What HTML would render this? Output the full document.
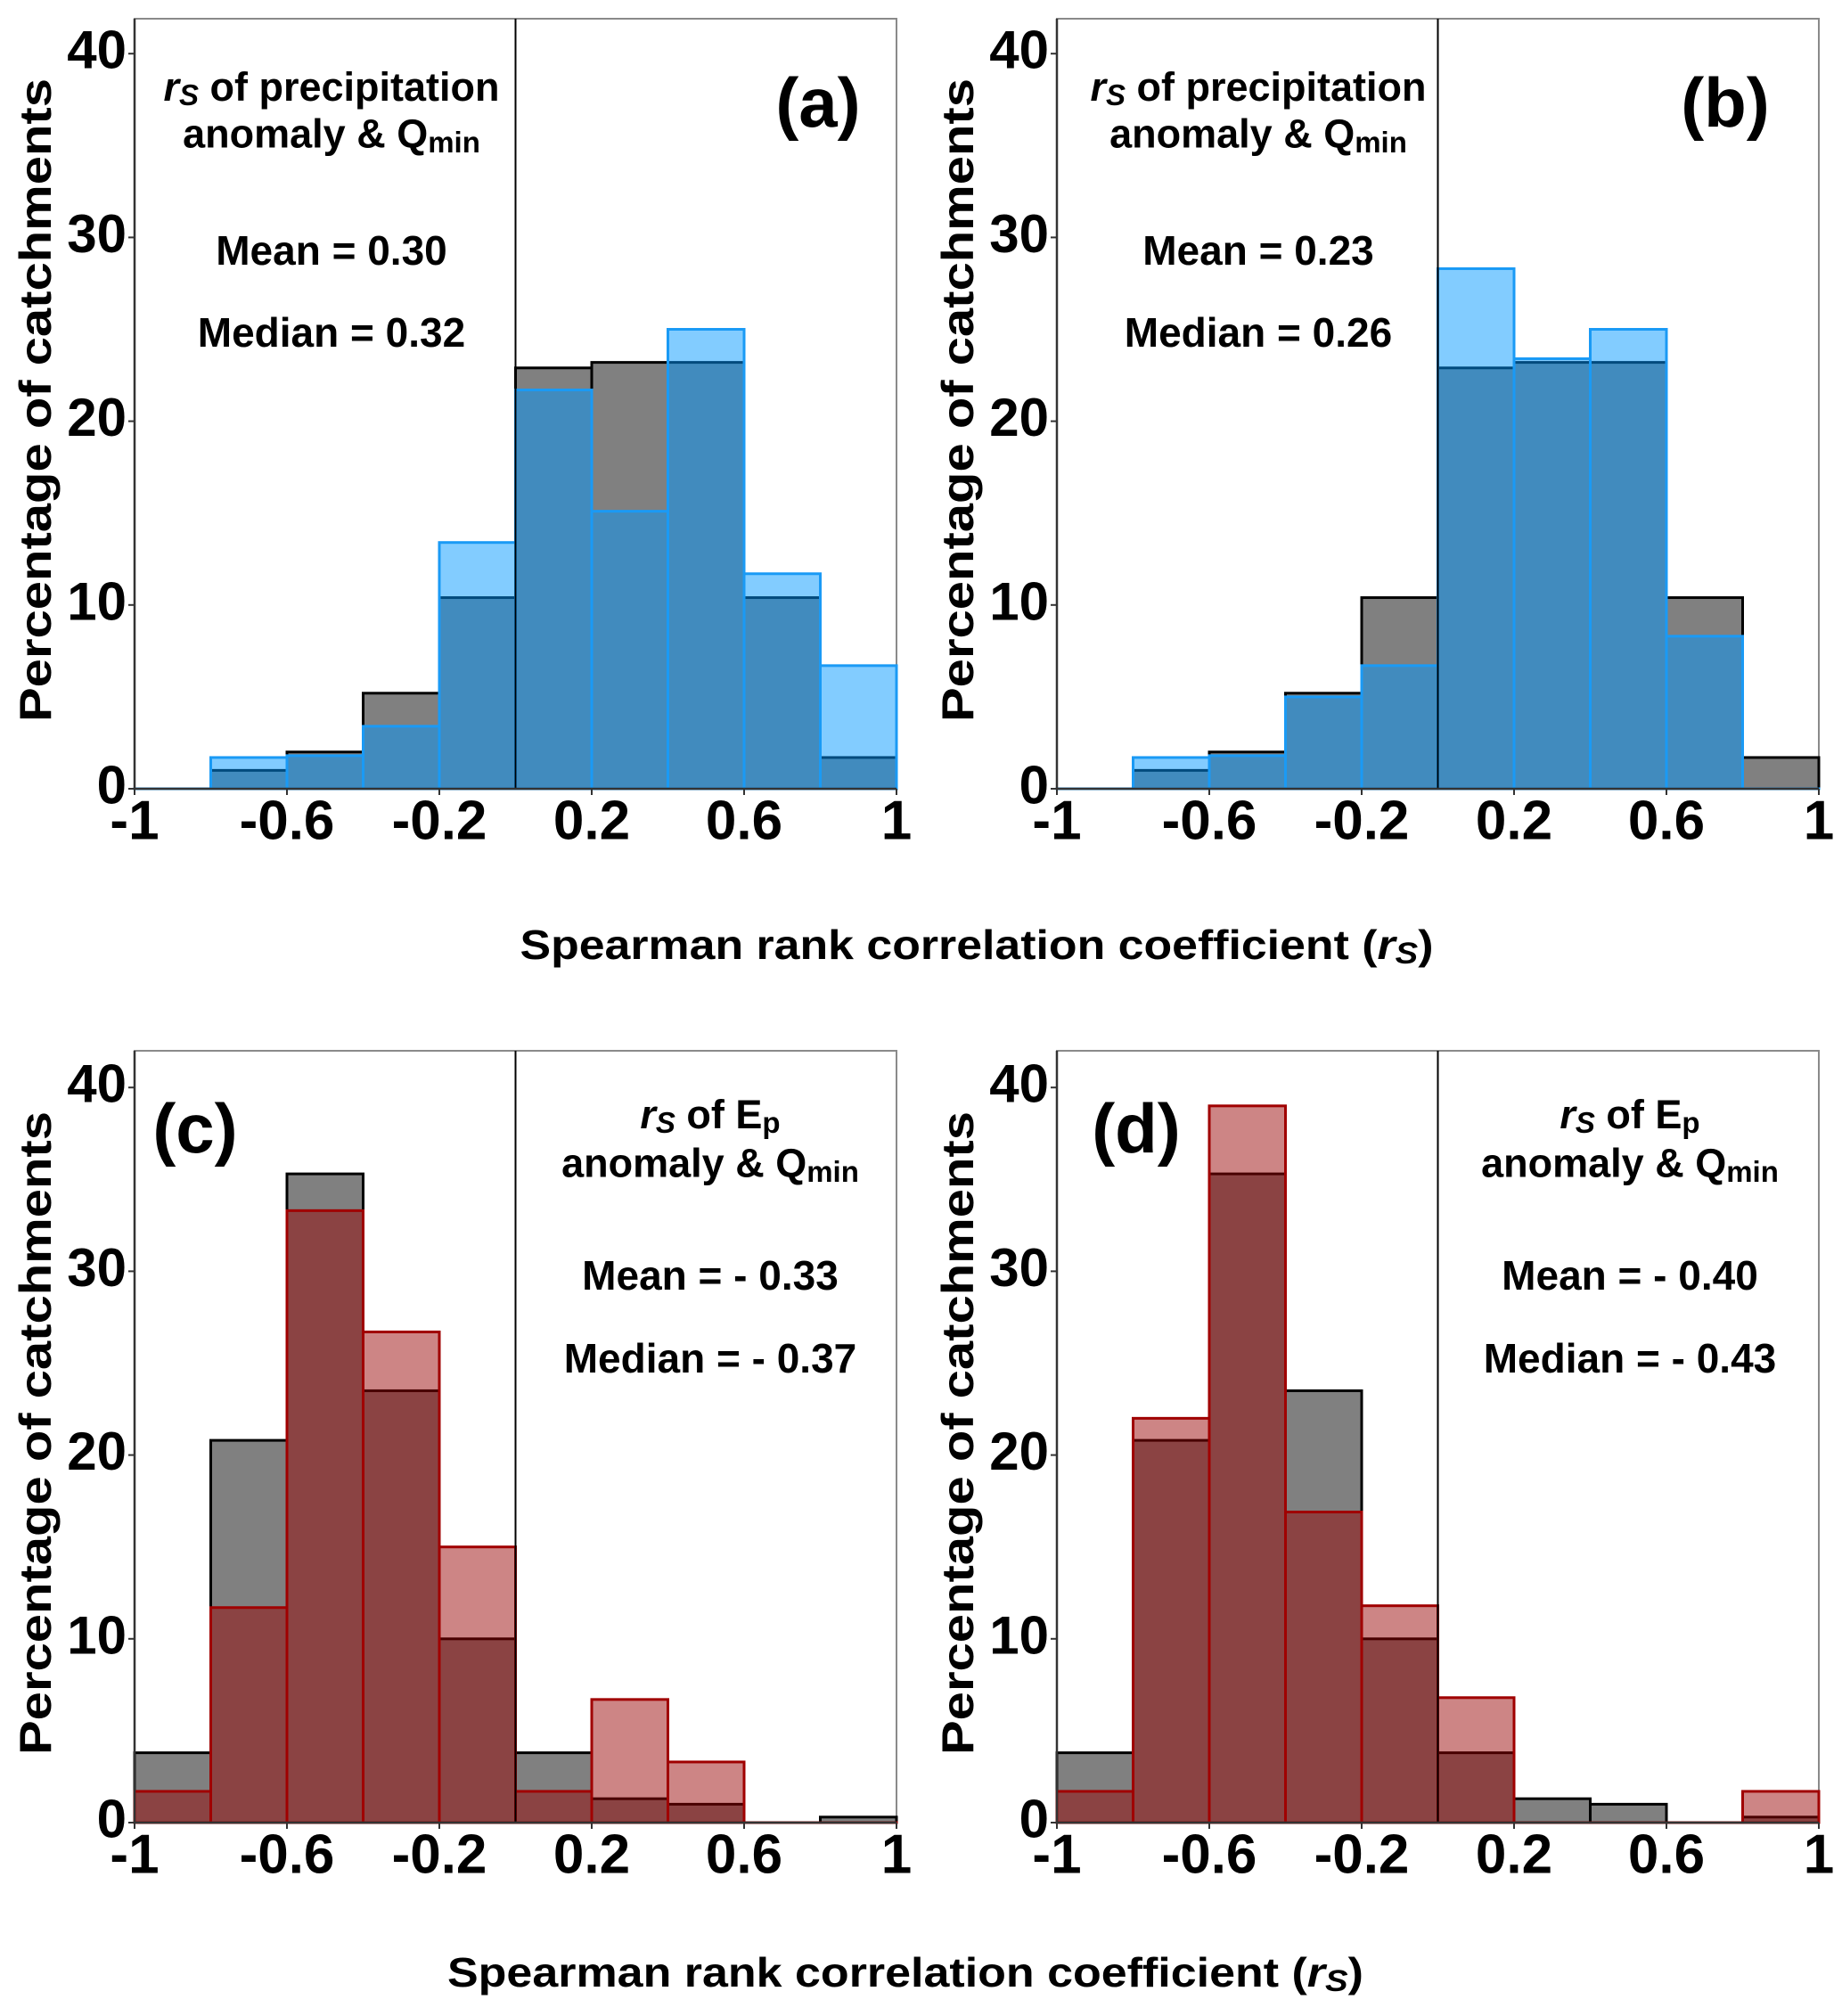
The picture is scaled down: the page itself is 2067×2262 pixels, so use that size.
<!DOCTYPE html>
<html><head><meta charset="utf-8"><style>
html,body{margin:0;padding:0;background:#fff}
svg{display:block}
text{font-family:"Liberation Sans",Arial,sans-serif;font-weight:bold;fill:#000}
</style></head><body>
<svg id="fig" width="2067" height="2262" viewBox="0 0 2067 2262" xmlns="http://www.w3.org/2000/svg">
<text x="1096" y="1060" font-size="46" text-anchor="middle" dominant-baseline="central" textLength="1025" lengthAdjust="spacingAndGlyphs">Spearman rank correlation coefficient  (<tspan font-style="italic">r</tspan><tspan font-style="italic" font-size="34" dy="10">S</tspan><tspan dy="-10">)</tspan></text>
<text x="1016" y="2213" font-size="46" text-anchor="middle" dominant-baseline="central" textLength="1028" lengthAdjust="spacingAndGlyphs">Spearman rank correlation coefficient  (<tspan font-style="italic">r</tspan><tspan font-style="italic" font-size="34" dy="10">S</tspan><tspan dy="-10">)</tspan></text>
</svg>
<script>
const binEdges = [-1,-0.8,-0.6,-0.4,-0.2,0,0.2,0.4,0.6,0.8,1];
const xTickLabels = ["-1","-0.6","-0.2","0.2","0.6","1"];
const xTickValues = [-1,-0.6,-0.2,0.2,0.6,1];
const yTickValues = [0,10,20,30,40];
const grayA = [0,1.0,2.0,5.2,10.4,22.9,23.2,23.2,10.4,1.7];
const blueA = [0,1.7,1.8,3.4,13.4,21.7,15.1,25.0,11.7,6.7];
const grayB = [0,1.0,2.0,5.2,10.4,22.9,23.2,23.2,10.4,1.7];
const blueB = [0,1.7,1.8,5.0,6.7,28.3,23.4,25.0,8.3,0];
const grayC = [3.8,20.8,35.3,23.5,10.0,3.8,1.3,1.0,0,0.3];
const redC = [1.7,11.7,33.3,26.7,15.0,1.7,6.7,3.3,0,0];
const grayD = [3.8,20.8,35.3,23.5,10.0,3.8,1.3,1.0,0,0.3];
const redD = [1.7,22.0,39.0,16.9,11.8,6.8,0,0,0,1.7];

const NS="http://www.w3.org/2000/svg";
const svg=document.getElementById('fig');
function mk(tag,attrs,parent){const e=document.createElementNS(NS,tag);for(const k in attrs)e.setAttribute(k,attrs[k]);(parent||svg).appendChild(e);return e;}

function panel(id,L,R,T,B0,gray,over,fill,edge,letter,letterX,letterY,annX,annY,line1,isEp){
  const g=mk('g',{});
  
  
  const sx=v=>L+(v+1)/2*(R-L);
  const sy=v=>B0-v*20.62;
  const fr=mk('rect',{x:L,y:T,width:R-L,height:B0-T,fill:'none',stroke:'#8a8a8a','stroke-width':2},g);
  
  
  for(let i=0;i<gray.length;i++){
    const v=gray[i]; if(v<=0) continue;
    const r=mk('rect',{x:sx(binEdges[i]),y:sy(v),width:sx(binEdges[i+1])-sx(binEdges[i]),height:sy(0)-sy(v),fill:'#808080',stroke:'#000','stroke-width':3},g);
    
    
  }
  for(let i=0;i<over.length;i++){
    const v=over[i];
    const r=mk('rect',{x:sx(binEdges[i]),y:sy(v),width:sx(binEdges[i+1])-sx(binEdges[i]),height:Math.max(sy(0)-sy(v),0.01),fill:fill,stroke:edge,'stroke-width':3},g);
    
    
  }
  const zl=mk('line',{x1:sx(0),x2:sx(0),y1:T,y2:B0,stroke:'#000','stroke-width':2},g);
  
  
  const ax=mk('line',{x1:L,x2:L,y1:T,y2:B0,stroke:'#333','stroke-width':2.5},g);
  
  
  const bx=mk('line',{x1:L,x2:R,y1:B0,y2:B0,stroke:'#333','stroke-width':2.5},g);
  
  
  for(let i=0;i<xTickValues.length;i++){
    const x=sx(xTickValues[i]);
    const t=mk('line',{x1:x,x2:x,y1:B0,y2:B0+7,stroke:'#333','stroke-width':2},g);
    
    
    const tl=mk('text',{x:x,y:B0+36,'font-size':62,'text-anchor':'middle','dominant-baseline':'central'},g);
    tl.textContent=xTickLabels[i];
    
    
  }
  for(let i=0;i<yTickValues.length;i++){
    const y=sy(yTickValues[i]);
    const t=mk('line',{x1:L-7,x2:L,y1:y,y2:y,stroke:'#333','stroke-width':2},g);
    
    
    const tl=mk('text',{x:L-9,y:y-4,'font-size':60,'text-anchor':'end','dominant-baseline':'central'},g);
    tl.textContent=String(yTickValues[i]);
    
    
  }
  const yl=mk('text',{x:0,y:0,'font-size':50,'text-anchor':'middle','dominant-baseline':'central',transform:`translate(${L-111},${(T+B0)/2-4}) rotate(-90)`,textLength:722,lengthAdjust:'spacingAndGlyphs'},g);
  yl.textContent='Percentage of catchments';
  
  
  const lt=mk('text',{x:letterX,y:letterY,'font-size':78,'text-anchor':'middle','dominant-baseline':'central'},g);
  lt.textContent=letter;
  
  
  const a1=mk('text',{x:annX,y:annY[0],'font-size':45,'text-anchor':'middle','dominant-baseline':'central'},g);
  
  
  if(isEp){
    a1.innerHTML='<tspan font-style="italic">r</tspan><tspan font-style="italic" font-size="33" dy="9">S</tspan><tspan dy="-9"> of E</tspan><tspan font-size="33" dy="9">p</tspan>';
  } else {
    a1.innerHTML='<tspan font-style="italic">r</tspan><tspan font-style="italic" font-size="33" dy="9">S</tspan><tspan dy="-9"> of precipitation</tspan>';
  }
  const a2=mk('text',{x:annX,y:annY[1],'font-size':45,'text-anchor':'middle','dominant-baseline':'central'},g);
  a2.innerHTML='anomaly &amp; Q<tspan font-size="33" dy="9">min</tspan>';
  
  
  const a3=mk('text',{x:annX,y:annY[2],'font-size':46,'text-anchor':'middle','dominant-baseline':'central'},g);
  a3.textContent=line1[0];
  
  
  const a4=mk('text',{x:annX,y:annY[3],'font-size':46,'text-anchor':'middle','dominant-baseline':'central'},g);
  a4.textContent=line1[1];
  
  
}
const blueFill='rgba(0,150,255,0.49)', blueEdge='#1a9af5';
const redFill='rgba(150,0,0,0.48)', redEdge='#a00000';
panel('a',151,1006,21,885,grayA,blueA,blueFill,blueEdge,'(a)',918,115,372,[97,150,281,373],['Mean = 0.30','Median = 0.32'],false);
panel('b',1186,2041,21,885,grayB,blueB,blueFill,blueEdge,'(b)',1936,115,1412,[97,150,281,373],['Mean = 0.23','Median = 0.26'],false);
panel('c',151,1006,1179,2045,grayC,redC,redFill,redEdge,'(c)',219,1266,797,[1250,1305,1431,1524],['Mean = - 0.33','Median = - 0.37'],true);
panel('d',1186,2041,1179,2045,grayD,redD,redFill,redEdge,'(d)',1275,1266,1829,[1250,1305,1431,1524],['Mean = - 0.40','Median = - 0.43'],true);
</script>
</body></html>
